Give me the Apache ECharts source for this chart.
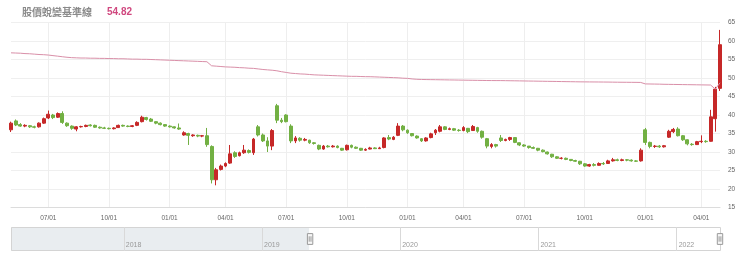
<!DOCTYPE html>
<html><head><meta charset="utf-8">
<script src="https://cdn.jsdelivr.net/npm/echarts@6/dist/echarts.min.js"></script>
<style>html,body{margin:0;padding:0;background:#fff}#c{width:740px;height:271px}</style>
</head><body><div id="c"></div>
<script>
// ---- data ----
const seriesName = '股價蛻變基準線';
const seriesValueLabel = '54.82';
// weekly trading categories (Monday of each week), holiday-closed weeks skipped
const firstWeek = '2017-03-13';
const lastWeek = '2022-04-25';
const skippedWeeks = ['2018-02-12', '2019-02-04', '2020-01-20', '2021-02-08', '2022-01-31'];
const windowStart = '2019-05-06';
const yMin = 15, yMax = 65, yStep = 5;
// weekly candles from windowStart: [open, close, low, high]
const ohlc = [
[36.0,37.8,35.4,38.2],[38.4,37.3,37.0,38.8],[37.4,37.0,36.8,37.8],[37.0,37.2,36.7,37.5],[37.1,36.8,36.5,37.3],
[36.8,36.7,36.4,37.1],[36.8,37.8,36.6,38.0],[37.8,39.0,37.6,39.3],[39.2,40.2,38.9,41.2],[40.0,39.3,38.9,40.3],
[39.4,40.4,39.2,40.7],[40.4,38.0,37.6,41.0],[37.8,37.1,36.8,38.0],[37.0,36.4,36.0,37.2],[36.2,36.8,35.6,37.0],
[36.8,36.9,36.6,37.1],[36.9,37.2,36.7,37.4],[37.3,37.1,36.9,37.5],[37.2,36.7,36.5,37.4],[36.7,36.5,36.3,36.9],
[36.5,36.4,36.2,36.8],[36.4,36.3,36.1,36.6],[36.3,36.5,36.1,36.7],[36.6,37.2,36.5,37.4],[37.2,37.0,36.8,37.4],
[37.0,36.9,36.7,37.2],[36.9,37.1,36.7,37.3],[37.2,38.0,37.0,38.3],[38.2,39.4,38.0,39.8],[39.3,38.8,38.5,39.5],
[38.9,38.3,38.1,39.2],[38.2,37.8,37.5,38.3],[37.8,37.4,37.2,38.0],[37.4,37.0,36.8,37.5],[37.0,36.8,36.6,37.2],
[36.8,36.5,36.3,36.9],[36.5,36.2,36.0,37.7],[34.6,35.2,34.4,35.6],[35.0,34.5,31.9,35.2],[34.4,34.6,34.1,34.8],
[34.5,34.3,34.0,34.7],[34.3,34.4,34.0,34.6],[34.4,32.0,31.4,36.5],[31.5,22.5,21.5,31.8],[22.5,25.2,21.0,25.7],
[25.3,26.2,25.0,26.6],[26.2,26.9,25.9,27.2],[27.0,29.5,26.8,31.9],[29.8,28.8,28.4,30.2],[29.0,29.8,28.8,30.1],
[29.8,30.5,29.5,31.9],[30.4,29.9,29.6,30.7],[29.8,33.5,29.2,33.8],[36.8,34.6,34.2,37.3],[34.6,33.0,32.7,35.0],
[33.0,31.6,30.0,34.0],[31.6,35.8,30.5,36.2],[42.5,38.6,37.8,43.0],[38.6,38.2,37.8,39.2],[40.0,38.2,38.0,40.2],
[37.0,33.0,32.4,37.5],[33.0,33.8,32.4,34.3],[33.7,33.2,32.8,34.0],[33.2,33.4,32.9,33.8],[33.2,32.5,32.2,33.3],
[32.5,32.3,32.0,32.7],[31.8,30.8,30.5,32.0],[30.8,31.6,30.6,31.9],[31.6,31.4,31.2,31.9],[31.4,31.6,31.2,31.9],
[31.6,31.2,31.0,31.8],[31.0,30.5,30.3,31.1],[30.6,31.8,30.4,32.0],[31.8,31.3,31.0,32.0],[31.3,31.0,30.8,31.5],
[31.0,30.5,30.3,31.1],[30.5,30.7,30.3,31.0],[30.8,31.1,30.7,31.4],[31.1,30.9,30.8,31.3],[30.9,31.1,30.8,31.4],
[31.2,33.8,31.0,34.0],[33.9,33.5,33.2,34.6],[33.4,34.0,33.2,34.3],[34.5,37.0,34.3,37.8],[37.0,36.0,35.6,37.3],
[35.9,35.2,34.9,36.1],[35.0,34.4,34.2,35.1],[34.3,33.8,33.6,34.5],[33.6,33.0,32.7,33.7],[33.0,33.8,32.8,34.0],
[33.9,34.9,33.7,35.2],[35.2,35.9,34.6,36.2],[35.6,36.8,35.3,37.3],[36.8,36.1,35.9,37.0],[36.1,36.3,35.9,36.6],
[36.3,35.9,35.7,36.5],[35.9,35.8,35.5,36.2],[35.8,36.6,35.6,37.0],[36.4,35.5,35.1,36.5],[35.8,36.9,35.7,37.3],
[36.6,35.6,35.2,36.8],[35.6,34.0,33.6,35.8],[33.6,31.6,31.0,33.8],[31.5,32.0,31.0,32.4],[32.0,31.6,31.2,32.2],
[33.8,33.1,32.7,34.6],[33.1,33.4,32.9,33.6],[33.4,33.9,33.0,34.1],[33.9,32.6,32.4,34.0],[32.5,31.9,31.6,32.6],
[31.9,31.6,31.4,32.1],[31.6,31.2,30.9,31.6],[31.2,31.0,30.8,31.5],[31.0,30.5,30.2,31.1],[30.5,30.1,29.9,30.7],
[30.0,29.5,29.3,30.1],[29.4,28.7,28.4,29.5],[28.7,28.3,28.1,28.9],[28.3,28.3,28.0,28.6],[28.3,28.0,27.8,28.5],
[28.0,27.7,27.5,28.0],[27.7,27.5,27.3,27.9],[27.5,26.8,26.5,27.6],[26.8,26.2,26.0,27.0],[26.2,26.6,26.0,26.8],
[26.6,26.4,26.1,27.0],[26.4,26.9,26.3,27.2],[26.9,26.8,26.5,27.3],[26.9,27.6,26.8,27.9],[27.6,27.9,27.4,28.4],
[27.9,27.7,27.5,28.2],[27.7,27.9,27.5,28.2],[27.9,27.8,27.5,28.1],[27.8,27.6,27.4,28.0],[27.6,27.5,27.3,27.8],
[27.6,30.5,27.4,31.0],[36.0,32.6,31.9,36.5],[32.6,31.5,31.0,32.8],[31.5,31.6,31.1,31.9],[31.6,31.4,31.1,31.9],
[31.4,31.7,31.2,31.9],[34.0,35.6,33.8,36.0],[35.5,36.1,35.1,36.5],[36.2,34.4,34.2,36.7],[34.4,33.3,33.0,34.6],
[33.3,32.2,31.8,33.4],[32.1,32.0,31.7,32.4],[32.0,32.8,31.9,33.0],[32.8,32.9,32.4,34.5],[32.9,32.8,32.5,33.2],
[32.9,39.5,32.8,41.4],[39.0,47.0,35.5,47.6],[47.2,59.0,46.5,63.0]
];
// baseline (股價蛻變基準線) per week from windowStart
const baseline = [
56.8,56.75,56.7,56.6,56.55,56.45,56.35,56.3,56.2,56.05,
55.9,55.75,55.6,55.5,55.45,55.4,55.4,55.35,55.35,55.3,
55.3,55.25,55.25,55.2,55.2,55.15,55.1,55.1,55.05,55.05,
55.0,54.95,54.9,54.85,54.8,54.75,54.7,54.65,54.6,54.55,
54.5,54.45,54.4,53.3,53.2,53.1,53.0,52.95,52.9,52.8,
52.75,52.65,52.6,52.45,52.3,52.2,52.1,51.95,51.7,51.5,
51.3,51.2,51.1,51.05,50.95,50.85,50.8,50.75,50.7,50.65,
50.6,50.55,50.5,50.45,50.45,50.4,50.36,50.35,50.3,50.25,
50.2,50.15,50.1,50.05,49.95,49.9,49.75,49.65,49.6,49.58,
49.56,49.54,49.52,49.5,49.48,49.46,49.44,49.42,49.4,49.38,
49.36,49.34,49.32,49.31,49.3,49.3,49.28,49.26,49.24,49.22,
49.2,49.18,49.16,49.14,49.12,49.1,49.08,49.06,49.04,49.02,
49.0,48.98,48.96,48.95,48.94,48.93,48.92,48.91,48.9,48.88,
48.86,48.85,48.84,48.83,48.82,48.8,48.4,48.38,48.36,48.34,
48.3,48.28,48.26,48.24,48.22,48.2,48.18,48.16,48.14,48.12,
48.1,47.0,48.7
];

// ---- categories ----
function fmt(d){return d.toISOString().slice(0,10);}
const categories = [];
for (let d = new Date(firstWeek + 'T00:00:00Z'); fmt(d) <= lastWeek; d = new Date(d.getTime() + 7*86400000)) {
  if (skippedWeeks.indexOf(fmt(d)) < 0) categories.push(fmt(d));
}
const w0 = categories.indexOf(windowStart);
const windowCats = categories.slice(w0);

function weekDays(s){const b=new Date(s+'T00:00:00Z');const r=[];for(let k=0;k<7;k++)r.push(new Date(b.getTime()+k*86400000));return r;}
function quarterStart(s){return weekDays(s).find(d=>d.getUTCDate()===1&&d.getUTCMonth()%3===0);}
function yearStart(s){return weekDays(s).find(d=>d.getUTCDate()===1&&d.getUTCMonth()===0);}
const isQ=(i,v)=>!!quarterStart(v);
const isY=(i,v)=>!!yearStart(v);

const candleData = ohlc.map((v,i)=>[windowCats[i], v[0], v[1], v[2], v[3]]);
const lineData = baseline.map((v,i)=>[windowCats[i], v]);

const chart = echarts.init(document.getElementById('c'));
chart.setOption({
  animation: false,
  backgroundColor: '#fff',
  title: {
    left: 17, top: 2,
    text: '{a|' + seriesName + '}{b|' + seriesValueLabel + '}',
    textStyle: { rich: {
      a: { fontSize: 10, color: '#8a8a8a', fontFamily: 'Noto Sans CJK TC' },
      b: { fontSize: 10, color: '#d0487f', padding: [0,0,0,15], fontFamily: 'Liberation Sans' }
    } }
  },
  grid: [
    { left: 11, right: 20, top: 22.5, height: 185 },
    { left: 10, right: 20, top: 227, height: 24 }
  ],
  xAxis: [
    { gridIndex: 0, type: 'category', data: categories, boundaryGap: false,
      axisLine: { lineStyle: { color: '#dcdcdc' } }, axisTick: { show: false },
      axisLabel: { interval: isQ, formatter: v => { const d = quarterStart(v); return String(d.getUTCMonth()+1).padStart(2,'0') + '/01'; },
        fontSize: 6.5, color: '#666', margin: 7, fontFamily: 'Liberation Sans' },
      splitLine: { show: true, interval: isQ, lineStyle: { color: '#eeeeee' } } },
    { gridIndex: 1, type: 'category', data: categories, boundaryGap: false, z: 6,
      axisLine: { show: false }, axisTick: { show: false },
      axisLabel: { inside: true, interval: isY, formatter: v => String(yearStart(v).getUTCFullYear()),
        fontSize: 7, color: '#999', align: 'left', margin: 2, padding: [0,0,0,2], fontFamily: 'Liberation Sans' },
      splitLine: { show: true, interval: isY, lineStyle: { color: '#d9d9d9' } } }
  ],
  yAxis: [
    { gridIndex: 0, type: 'value', position: 'right', min: yMin, max: yMax, interval: yStep,
      axisLine: { show: false }, axisTick: { show: false },
      axisLabel: { fontSize: 6.5, color: '#666', margin: 8, fontFamily: 'Liberation Sans' },
      splitLine: { lineStyle: { color: '#efefef' } } },
    { gridIndex: 1, type: 'value', min: 0, max: 1, show: false }
  ],
  dataZoom: [{
    type: 'slider', xAxisIndex: 0, startValue: windowStart, endValue: lastWeek,
    left: 10, right: 20, top: 227, height: 24,
    backgroundColor: '#e9edf0', fillerColor: '#ffffff', borderColor: '#d4d4d4', borderRadius: 0,
    showDataShadow: false, showDetail: false, brushSelect: false, moveHandleSize: 0,
    handleIcon: 'path://M0,0 L6,0 L6,12 L0,12 Z M2,3 L2,9 M4,3 L4,9',
    handleSize: '45%',
    handleStyle: { color: '#f6f6f6', borderColor: '#9a9a9a', borderWidth: 1 },
    z: 2
  }],
  series: [
    { type: 'candlestick', name: 'K', xAxisIndex: 0, yAxisIndex: 0, data: candleData,
      encode: { x: 0, y: [1,2,3,4] }, barWidth: '72%',
      itemStyle: { color: '#c62828', color0: '#72b043', borderColor: '#c62828', borderColor0: '#72b043', borderWidth: 1 } },
    { type: 'line', name: seriesName, xAxisIndex: 0, yAxisIndex: 0, data: lineData, showSymbol: false,
      encode: { x: 0, y: 1 },
      lineStyle: { color: '#d98fa8', width: 1 }, z: 3 }
  ]
});
</script></body></html>
